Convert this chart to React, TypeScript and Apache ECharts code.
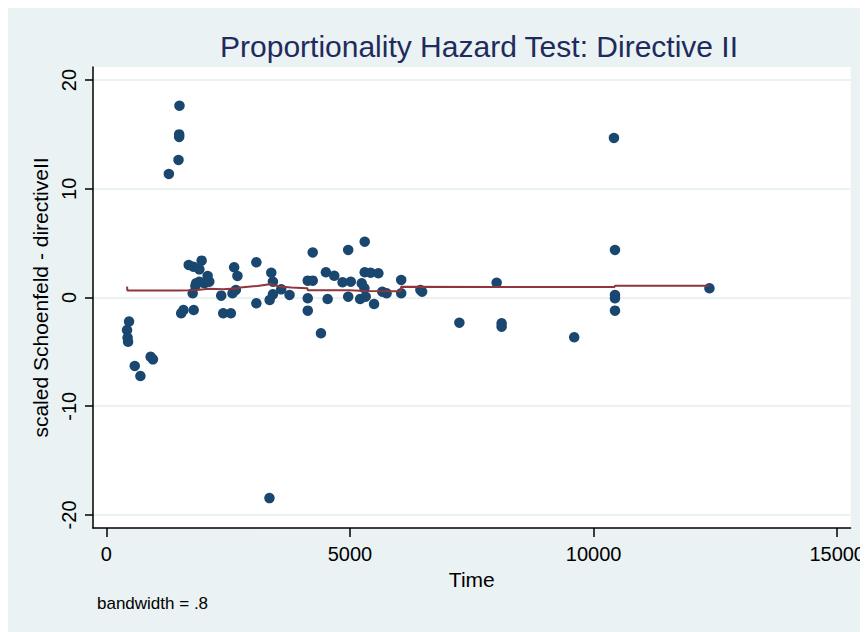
import React, { useEffect, useRef } from "react";
import * as echarts from "echarts";

const titleText = "Proportionality Hazard Test: Directive II";
const xAxisTitle = "Time";
const yAxisTitle = "scaled Schoenfeld - directiveII";
const noteText = "bandwidth = .8";

const xTicks = [0, 5000, 10000, 15000];
const yTicks = [-20, -10, 0, 10, 20];

// scatter points: time
const pointTime = [
  465, 424, 435, 445, 908, 955, 582, 698,
  1500, 1494, 1494, 1480, 1282,
  1690, 1786, 1955, 1908, 2078, 1841, 1908, 2010, 2112, 1771, 1827,
  1535, 1582, 1792, 2357, 2398, 2555, 2622, 2690, 2588, 2657,
  3078, 3078, 3384, 3418, 3351, 3418, 3588, 3759,
  4235, 4133, 4235, 4133, 4133, 4404, 4506, 4677, 4541, 4847, 5016, 4963, 4963,
  5302, 5302, 5424, 5582, 5241, 5296, 5208, 5322, 5494, 5663, 5751,
  6051, 6051, 6445, 6480, 7245, 8010, 8112, 8112, 9602,
  10418, 10439, 10439, 10439, 10439, 12378, 3347,
];
// scatter points: scaled Schoenfeld residual
const pointResid = [
  -2.21, -2.99, -3.7, -4.07, -5.45, -5.69, -6.3, -7.22,
  17.64, 15.0, 14.77, 12.65, 11.36,
  2.99, 2.83, 3.39, 2.59, 1.98, 1.31, 1.45, 1.31, 1.45, 0.39, 1.06,
  -1.45, -1.15, -1.15, 0.17, -1.45, -1.45, 2.78, 1.98, 0.39, 0.69,
  3.24, -0.53, 2.28, 1.45, -0.23, 0.29, 0.75, 0.23,
  4.14, 1.55, 1.55, -0.07, -1.21, -3.29, 2.32, 2.0, -0.14, 1.4, 1.45, 4.37, 0.07,
  5.13, 2.32, 2.28, 2.23, 1.31, 0.85, -0.14, 0.07, -0.6, 0.53, 0.39,
  1.61, 0.39, 0.69, 0.53, -2.32, 1.36, -2.37, -2.69, -3.66,
  14.67, 4.37, 0.23, -0.07, -1.21, 0.85, -18.45,
];

// smoothed (running mean) line
const smoothTime = [
  424, 430, 1500, 1510, 1700, 1850, 2000, 2100, 2400, 2700, 2750, 3100, 3384,
  3420, 3600, 3800, 4000, 4125, 4133, 5000, 5300, 6040, 6051, 8000, 10430,
  10439, 12378,
];
const smoothResid = [
  1.0, 0.64, 0.64, 0.66, 0.66, 0.69, 0.75, 0.8, 0.75, 0.85, 0.92, 1.06, 1.25,
  1.15, 0.99, 0.92, 0.88, 0.85, 0.66, 0.66, 0.6, 0.58, 0.99, 0.97, 0.97, 1.08,
  1.08,
];

const FONT = "'Liberation Sans', Arial, sans-serif";

export default function App() {
  const ref = useRef<HTMLDivElement>(null);
  useEffect(() => {
    if (!ref.current) return;
    const chart = echarts.init(ref.current, null, { renderer: "svg" });
    const scatterData = pointTime.map((t, i) => [t, pointResid[i]]);
    const lineData = smoothTime.map((t, i) => [t, smoothResid[i]]);
    chart.setOption({
      animation: false,
      backgroundColor: "#eaf2f3",
      textStyle: { fontFamily: FONT },
      title: {
        text: titleText,
        left: 466,
        top: 18,
        textAlign: "center",
        textStyle: {
          fontFamily: FONT,
          fontSize: 30,
          fontWeight: "normal",
          color: "#1e2b5c",
        },
      },
      grid: {
        left: 85,
        right: 13,
        top: 59,
        bottom: 104,
        show: true,
        backgroundColor: "#ffffff",
        borderWidth: 0,
      },
      xAxis: {
        type: "value",
        min: -275,
        max: 15275,
        name: xAxisTitle,
        nameLocation: "middle",
        nameGap: 37,
        nameTextStyle: { fontFamily: FONT, fontSize: 21, color: "#000" },
        axisLine: { onZero: false, lineStyle: { color: "#000", width: 1.5 } },
        axisTick: {
          customValues: xTicks,
          length: 9,
          lineStyle: { color: "#000", width: 1.5 },
        },
        axisLabel: {
          customValues: xTicks,
          formatter: (v: number) => String(v),
          margin: 16,
          fontFamily: FONT,
          fontSize: 20,
          color: "#000",
        },
        splitLine: { show: false },
      },
      yAxis: {
        type: "value",
        min: -21.2,
        max: 21.2,
        name: yAxisTitle,
        nameLocation: "middle",
        nameRotate: 90,
        nameGap: 40,
        nameTextStyle: { fontFamily: FONT, fontSize: 21, color: "#000" },
        axisLine: { onZero: false, lineStyle: { color: "#000", width: 1.5 } },
        axisTick: {
          customValues: yTicks,
          length: 8,
          lineStyle: { color: "#000", width: 1.5 },
        },
        axisLabel: {
          customValues: yTicks,
          formatter: (v: number) => String(v),
          rotate: 90,
          margin: 14,
          fontFamily: FONT,
          fontSize: 20,
          color: "#000",
        },
        splitLine: {
          show: true,
          lineStyle: { color: "#e4eef1", width: 1.5 },
        },
      },
      graphic: [
        {
          type: "text",
          left: 89,
          top: 587,
          style: {
            text: noteText,
            fontFamily: FONT,
            fontSize: 17,
            fill: "#000",
          },
        },
      ],
      series: [
        {
          type: "scatter",
          data: scatterData,
          symbol: "circle",
          symbolSize: 10.5,
          itemStyle: { color: "#1a476f", opacity: 1 },
          z: 2,
        },
        {
          type: "line",
          data: lineData,
          showSymbol: false,
          symbol: "none",
          lineStyle: { color: "#90353b", width: 2 },
          z: 3,
        },
      ],
    });
    return () => chart.dispose();
  }, []);
  return <div ref={ref} style={{ width: 860, height: 624 }} />;
}
